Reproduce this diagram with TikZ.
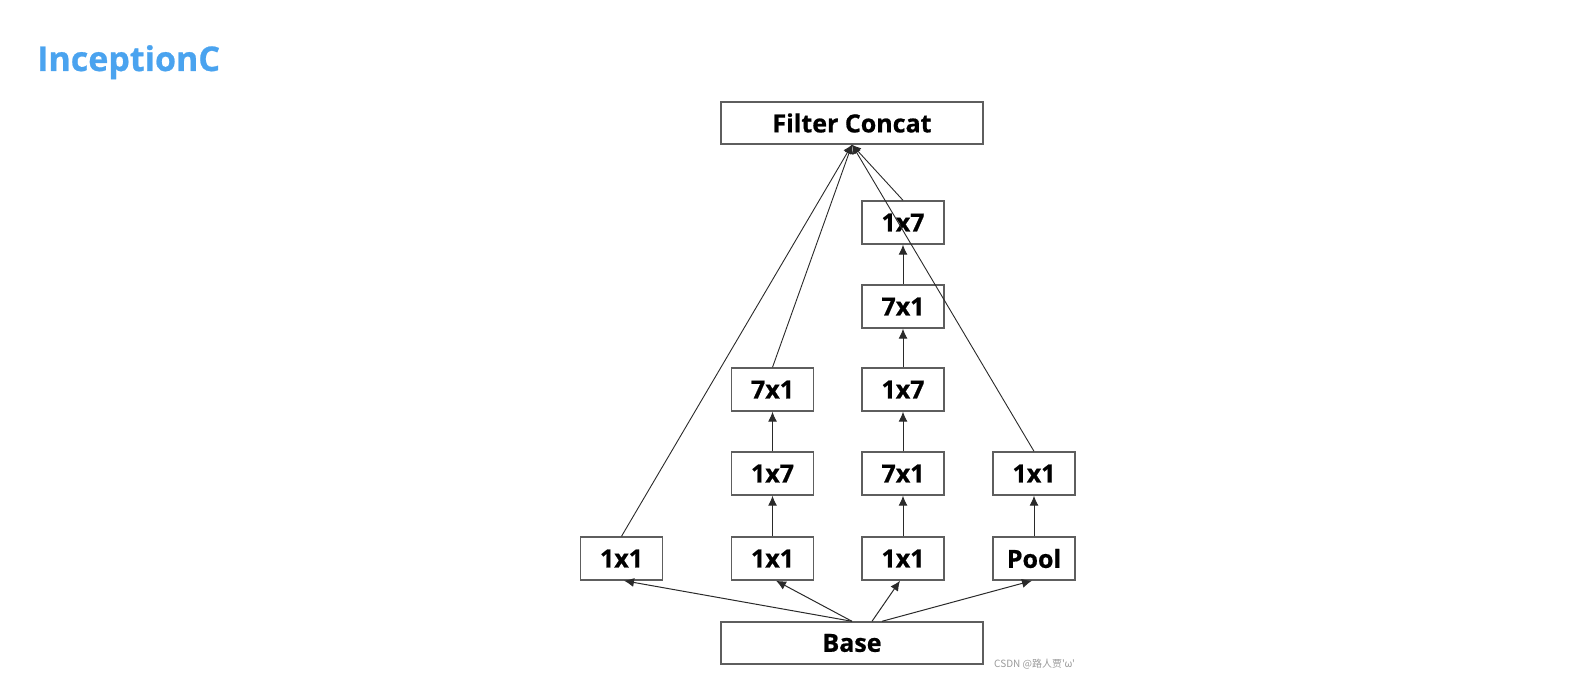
\documentclass[tikz,border=0pt]{standalone}
\usepackage{fontspec}
\setmainfont{Open Sans}
\newfontfamily\heavy{Open Sans}[BoldFeatures={FakeBold=0.7}]
\newfontfamily\cjkfont{Noto Sans CJK SC}
\usetikzlibrary{arrows.meta,calc}
\definecolor{titleblue}{HTML}{4AA3EF}
\definecolor{boxgray}{HTML}{5E5E5E}
\definecolor{linegray}{HTML}{2A2A2A}
\definecolor{wmgray}{HTML}{9A9A9A}
\begin{document}
\begin{tikzpicture}[x=1pt,y=-1pt,
  blk/.style={draw=boxgray,line width=1.4pt,fill=white,minimum width=82pt,minimum height=43pt,inner sep=0pt,font=\heavy\fontsize{25}{25}\selectfont\bfseries,text=black},
  wide/.style={blk,minimum width=262pt,minimum height=42pt},
  arr/.style={-{Latex[length=10pt,width=9pt]},draw=linegray,line width=1pt},
  tline/.style={-{Latex[length=9pt,width=9pt]},draw=linegray,line width=0.9pt},
  ]
\useasboundingbox (0,0) rectangle (1591,687);
\node[anchor=base west,text=titleblue,font=\heavy\fontsize{34}{34}\selectfont\bfseries,inner sep=0pt] (title) at (37,71) {InceptionC};
\node[wide] (fc) at (852,123) {Filter Concat};
\node[wide] (base) at (852,643) {Base};
\node[blk] (a1) at (621.5,558.5) {1x1};
\node[blk] (b1) at (772.5,558.5) {1x1};
\node[blk] (b2) at (772.5,473.5) {1x7};
\node[blk] (b3) at (772.5,389.5) {7x1};
\node[blk] (c1) at (903,558.5) {1x1};
\node[blk] (c2) at (903,473.5) {7x1};
\node[blk] (c3) at (903,389.5) {1x7};
\node[blk] (c4) at (903,306.5) {7x1};
\node[blk] (c5) at (903,222.5) {1x7};
\node[blk] (d1) at (1034,558.5) {Pool};
\node[blk] (d2) at (1034,473.5) {1x1};
% base to first row
\draw[arr] (base.north) -- ([xshift=2.5pt]a1.south);
\draw[arr] (base.north) -- ([xshift=3.5pt]b1.south);
\draw[arr] ([xshift=20pt]base.north) -- ([xshift=-3pt]c1.south);
\draw[arr] ([xshift=30pt]base.north) -- ([xshift=-2pt]d1.south);
% vertical chains
\draw[arr] (b1.north) -- (b2.south);
\draw[arr] (b2.north) -- (b3.south);
\draw[arr] (c1.north) -- (c2.south);
\draw[arr] (c2.north) -- (c3.south);
\draw[arr] (c3.north) -- (c4.south);
\draw[arr] (c4.north) -- (c5.south);
\draw[arr] (d1.north) -- (d2.south);
% to filter concat
\draw[tline] (a1.north) -- (fc.south);
\draw[tline] (b3.north) -- (fc.south);
\draw[tline] (c5.north) -- (fc.south);
\draw[tline] (d2.north) -- (fc.south);
\node[anchor=west,text=wmgray,font=\cjkfont\fontsize{10}{10}\selectfont,inner sep=0pt] (wm) at (994,664) {CSDN @路人贾'ω'};
\end{tikzpicture}
\end{document}
